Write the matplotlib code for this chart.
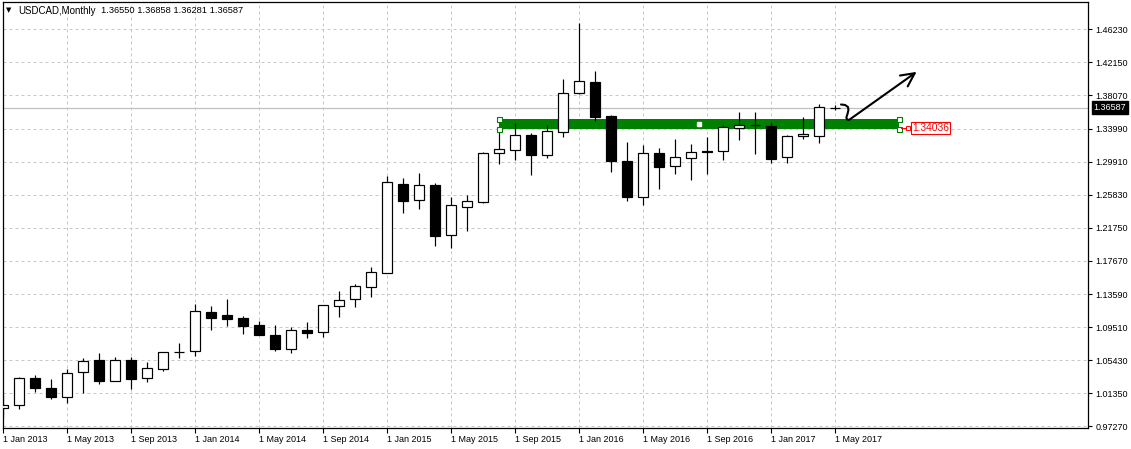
import matplotlib
matplotlib.use('Agg')
import matplotlib.pyplot as plt
import matplotlib.transforms as mtransforms
from matplotlib.patches import Rectangle
import pandas as pd

symbol = 'USDCAD,Monthly'
header_values = ['1.36550', '1.36858', '1.36281', '1.36587']

# monthly candles, Jan 2013 .. May 2017
opens = [0.9959, 0.9990, 1.0321, 1.0198, 1.0087, 1.0395, 1.0547, 1.0292, 1.0547, 1.0321, 1.0440, 1.0645,
         1.0654, 1.1135, 1.1101, 1.1060, 1.0975, 1.0850, 1.0675, 1.0910, 1.0885, 1.1210, 1.1293, 1.1445,
         1.1620, 1.2716, 1.2515, 1.2700, 1.2085, 1.2435, 1.2498, 1.3095, 1.3140, 1.3320, 1.3075, 1.3355,
         1.3840, 1.3975, 1.3555, 1.3005, 1.2560, 1.3095, 1.2935, 1.3035, 1.3118, 1.3120, 1.3410, 1.3440,
         1.3431, 1.3045, 1.3305, 1.3312, 1.36550]
highs = [1.0115, 1.0334, 1.0358, 1.0313, 1.0436, 1.0568, 1.0637, 1.0580, 1.0580, 1.0522, 1.0645, 1.0756,
         1.1241, 1.1212, 1.1299, 1.1089, 1.1028, 1.0978, 1.0954, 1.1019, 1.1228, 1.1397, 1.1480, 1.1689,
         1.2815, 1.2786, 1.2848, 1.2729, 1.2556, 1.2584, 1.3107, 1.3355, 1.3468, 1.3349, 1.3443, 1.4010,
         1.4704, 1.4109, 1.3567, 1.3234, 1.3197, 1.3160, 1.3271, 1.3209, 1.3295, 1.3440, 1.3600, 1.3600,
         1.3477, 1.3320, 1.3538, 1.3699, 1.36858]
lows = [0.9828, 0.9947, 1.0156, 1.0070, 1.0021, 1.0144, 1.0255, 1.0284, 1.0193, 1.0279, 1.0415, 1.0571,
        1.0596, 1.0917, 1.0970, 1.0867, 1.0855, 1.0661, 1.0637, 1.0818, 1.0834, 1.1081, 1.1204, 1.1327,
        1.1615, 1.2362, 1.2412, 1.1956, 1.1927, 1.2141, 1.2486, 1.2959, 1.3008, 1.2831, 1.3040, 1.3299,
        1.3830, 1.3489, 1.2864, 1.2507, 1.2461, 1.2658, 1.2836, 1.2769, 1.2836, 1.3012, 1.3262, 1.3090,
        1.2979, 1.2979, 1.3275, 1.3225, 1.36281]
closes = [0.9992, 1.0321, 1.0198, 1.0087, 1.0383, 1.0535, 1.0292, 1.0547, 1.0316, 1.0445, 1.0642, 1.0640,
          1.1147, 1.1068, 1.1056, 1.0970, 1.0859, 1.0686, 1.0913, 1.0883, 1.1221, 1.1283, 1.1455, 1.1628,
          1.2737, 1.2510, 1.2700, 1.2079, 1.2454, 1.2503, 1.3095, 1.3144, 1.3316, 1.3074, 1.3366, 1.3834,
          1.3986, 1.3546, 1.3003, 1.2560, 1.3095, 1.2929, 1.3045, 1.3107, 1.3110, 1.3415, 1.3440, 1.3438,
          1.3028, 1.3304, 1.3332, 1.3662, 1.36587]

months = pd.date_range('2013-01-01', periods=len(opens), freq='MS')
tick_pos = list(range(0, len(months), 4))
tick_labels = ['1 ' + months[i].strftime('%b %Y') for i in tick_pos]

y_ticks = [0.97270, 1.01350, 1.05430, 1.09510, 1.13590, 1.17670, 1.21750,
           1.25830, 1.29910, 1.33990, 1.38070, 1.42150, 1.46230]
last_price = 1.36587

# green support zone (rectangle object on the chart)
zone_start, zone_end = 31, 56
zone_low, zone_high = 1.3395, 1.3514
zone_label = 1.34036

# hand-drawn arrow (index, price)
arrow_x = [52.375, 52.625, 52.81, 52.84, 52.78, 52.71, 52.75, 52.875]
arrow_y = [1.3696, 1.3690, 1.3665, 1.3628, 1.3579, 1.3535, 1.3511, 1.3505]
arrow_tip = (57.1, 1.4098)

W, H = 1131, 449
font = 'Liberation Sans'
fig = plt.figure(figsize=(W / 100, H / 100), dpi=100)
ax = fig.add_axes([2.5 / W, (H - 428) / H, (1088 - 2.5) / W, (428 - 2.5) / H])

# pixel calibration: x = 3 + 16*i, y = 29.3 + (1.4623 - p) * 811
ax.set_xlim((2.5 - 3) / 16, (1088 - 3) / 16)
ax.set_ylim(1.4623 - (428 - 29.3) / 811, 1.4623 + (29.3 - 2.5) / 811)

px = 0.72
ax.grid(True, color='#c8c8c8', lw=px, linestyle=(0, (3, 3)), zorder=0)
ax.set_axisbelow(True)
ax.axhline(last_price, color='#c0c0c0', lw=px * 1.2, zorder=1)

ax.add_patch(Rectangle((zone_start, zone_low), zone_end - zone_start, zone_high - zone_low,
                       facecolor='#008000', edgecolor='none', zorder=1.5))

bw = 0.58
for i in range(len(opens)):
    o, h, l, c = opens[i], highs[i], lows[i], closes[i]
    ax.plot([i, i], [l, h], color='black', lw=px * 1.2, zorder=2, solid_capstyle='butt')
    fc = 'white' if c >= o else 'black'
    ax.add_patch(Rectangle((i - bw / 2, min(o, c)), bw, max(abs(c - o), 0.0001),
                           facecolor=fc, edgecolor='black', lw=px * 1.2, zorder=3))

# zone handles and price tag
ax.plot([zone_start, zone_start, zone_end, zone_end], [zone_high, zone_low, zone_high, zone_low],
        's', mfc='white', mec='#008000', ms=3.6, mew=0.8, zorder=4)
ax.plot((zone_start + zone_end) / 2, (zone_low + zone_high) / 2, 's', mfc='white', mec='white',
        ms=2.5, zorder=4)
ax.plot([zone_end + 0.1, 56.55], [zone_label, zone_label], color='red', lw=px, zorder=4)
ax.plot(56.55, zone_label, 's', mfc='white', mec='red', ms=2.8, mew=0.7, zorder=4)
ax.text(56.8, zone_label, '%.5f' % zone_label, color='red', fontsize=7.4, family=font,
        ha='left', va='center', zorder=5,
        bbox=dict(boxstyle='square,pad=0.12', fc='white', ec='red', lw=0.8))

# arrow
ax.plot(arrow_x, arrow_y, color='black', lw=1.5, solid_capstyle='round', solid_joinstyle='round',
        zorder=5)
ax.annotate('', xy=arrow_tip, xytext=(arrow_x[-1], arrow_y[-1]),
            arrowprops=dict(arrowstyle='->,head_length=0.8,head_width=0.4', lw=1.5,
                            color='black', shrinkA=0, shrinkB=0, mutation_scale=12), zorder=5)

for s in ax.spines.values():
    s.set_color('black')
    s.set_linewidth(0.9)

ax.set_xticks(tick_pos)
ax.set_xticklabels(tick_labels, fontsize=6.5, family=font)
for lbl in ax.get_xticklabels():
    lbl.set_ha('left')
ax.tick_params(axis='x', length=3.5, width=0.8, pad=1.2, direction='out')

ax.yaxis.tick_right()
ax.set_yticks(y_ticks)
ax.set_yticklabels(['%.5f' % v for v in y_ticks], fontsize=6.5, family=font)
ax.tick_params(axis='y', length=3, width=0.8, pad=2.2, direction='out')

# last price tag on the price scale
tr = mtransforms.blended_transform_factory(fig.transFigure, ax.transData)
ax.text(1093.5 / W, last_price, '%.5f' % last_price, transform=tr, color='white', fontsize=6.5,
        family=font, ha='left', va='center', clip_on=False, zorder=6,
        bbox=dict(boxstyle='square,pad=0.2', fc='black', ec='black'))

# header
fig.text(5.5 / W, 1 - 10.5 / H, '\u25bc', fontsize=5, family='DejaVu Sans', va='center', ha='left')
fig.text(18.3 / W, 1 - 10.5 / H, symbol, fontsize=7.0, family=font, va='center', ha='left')
fig.text(101 / W, 1 - 10.5 / H, ' '.join(header_values), fontsize=6.7, family=font,
         va='center', ha='left')

fig.savefig('out.png', dpi=100, facecolor='white')
